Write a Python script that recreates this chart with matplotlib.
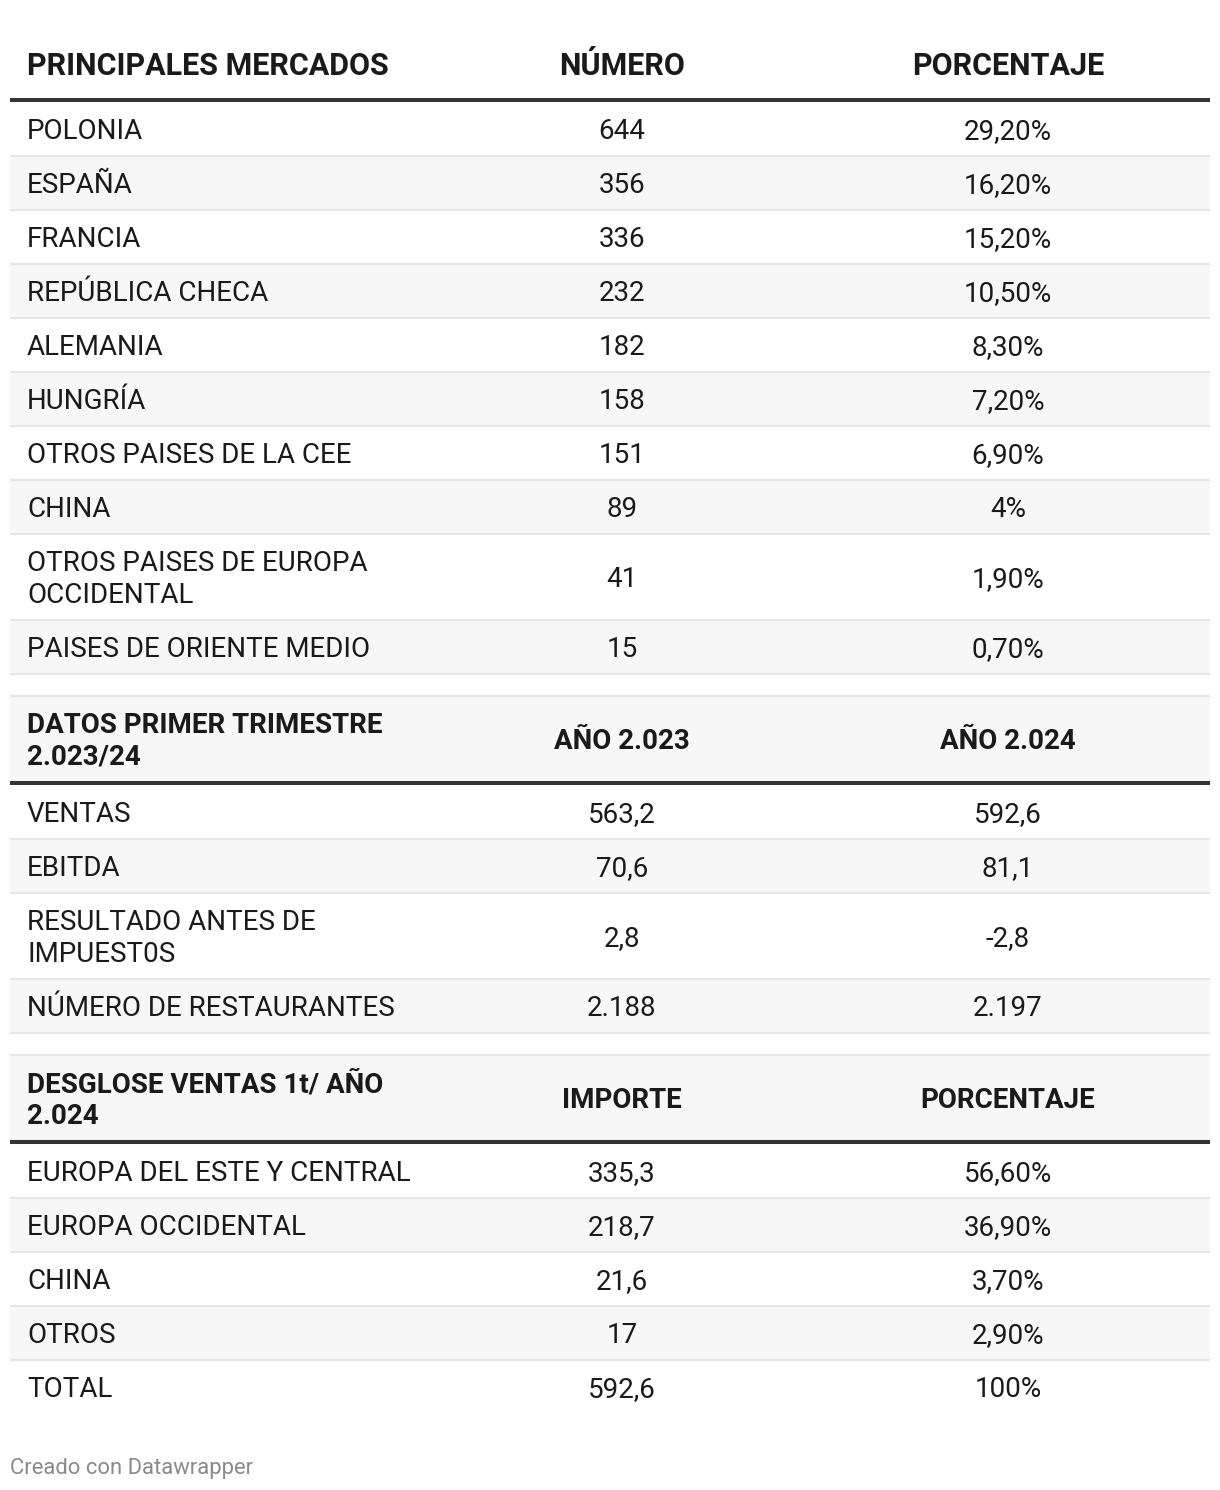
import matplotlib.pyplot as plt
from matplotlib.patches import Rectangle

# --- data ---
headers_markets = ["PRINCIPALES MERCADOS", "NÚMERO", "PORCENTAJE"]
markets = ["POLONIA", "ESPAÑA", "FRANCIA", "REPÚBLICA CHECA", "ALEMANIA", "HUNGRÍA",
           "OTROS PAISES DE LA CEE", "CHINA", "OTROS PAISES DE EUROPA\nOCCIDENTAL",
           "PAISES DE ORIENTE MEDIO"]
market_numbers = ["644", "356", "336", "232", "182", "158", "151", "89", "41", "15"]
market_pcts = ["29,20%", "16,20%", "15,20%", "10,50%", "8,30%", "7,20%", "6,90%", "4%",
               "1,90%", "0,70%"]

headers_q1 = ["DATOS PRIMER TRIMESTRE\n2.023/24", "AÑO 2.023", "AÑO 2.024"]
q1_items = ["VENTAS", "EBITDA", "RESULTADO ANTES DE\nIMPUEST0S", "NÚMERO DE RESTAURANTES"]
q1_2023 = ["563,2", "70,6", "2,8", "2.188"]
q1_2024 = ["592,6", "81,1", "-2,8", "2.197"]

headers_sales = ["DESGLOSE VENTAS 1t/ AÑO\n2.024", "IMPORTE", "PORCENTAJE"]
regions = ["EUROPA DEL ESTE Y CENTRAL", "EUROPA OCCIDENTAL", "CHINA", "OTROS", "TOTAL"]
region_amounts = ["335,3", "218,7", "21,6", "17", "592,6"]
region_pcts = ["56,60%", "36,90%", "3,70%", "2,90%", "100%"]

# --- style ---
W, H = 1220, 1490
X0, X1 = 10, 1210
COL_X = [27, 622, 1008]
TXT = "#1a1a1a"
STRIPE = "#f7f7f7"
THIN = "#e6e6e6"
THICK = "#333333"
FS = 20.0          # body text, points at dpi 100
FS_TOP = 22.0      # first (real) table header
FS_SUB = 20.0      # header rows inside the table
LINE_GAP = 32      # px between wrapped lines

fig = plt.figure(figsize=(W / 100, H / 100), dpi=100)
ax = fig.add_axes([0, 0, 1, 1])
ax.set_xlim(0, W)
ax.set_ylim(H, 0)
ax.axis("off")


def put_cell(x, yc, text, ha, size, bold=False):
    lines = text.split("\n")
    n = len(lines)
    for i, line in enumerate(lines):
        y = yc + (i - (n - 1) / 2) * LINE_GAP
        ax.text(x, y, line, ha=ha, va="center_baseline", fontsize=size,
                fontfamily="Roboto", fontweight="bold" if bold else "normal", color=TXT)


def put_row(cells, yc, size, bold=False):
    put_cell(COL_X[0], yc, cells[0], "left", size, bold)
    put_cell(COL_X[1], yc, cells[1], "center", size, bold)
    put_cell(COL_X[2], yc, cells[2], "center", size, bold)


def nlines(cells):
    return max(c.count("\n") + 1 for c in cells)


# build the row list: (kind, cells)
rows = [("header", headers_markets)]
rows += [("data", r) for r in zip(markets, market_numbers, market_pcts)]
rows += [("blank", None), ("header", headers_q1)]
rows += [("data", r) for r in zip(q1_items, q1_2023, q1_2024)]
rows += [("blank", None), ("header", headers_sales)]
rows += [("data", r) for r in zip(regions, region_amounts, region_pcts)]

y = 22
for i, (kind, cells) in enumerate(rows):
    if kind == "blank":
        h = 22
    elif kind == "header" and i == 0:
        h = 76
    elif kind == "header":
        h = 85
    else:
        h = 22 + LINE_GAP * nlines(cells)
    if i % 2 == 0 and i > 0:
        ax.add_patch(Rectangle((X0, y), X1 - X0, h, color=STRIPE, lw=0, zorder=0))
    if kind == "header":
        if i == 0:
            put_row(cells, 63, FS_TOP, bold=True)
        else:
            put_row(cells, y + h / 2, FS_SUB, bold=True)
    elif kind == "data":
        put_row(cells, y + h / 2 - 0.5, FS)
    y += h
    if kind == "header":
        ax.plot([X0, X1], [y + 2, y + 2], color=THICK, lw=2.9, solid_capstyle="butt")
        y += 4
    elif i < len(rows) - 1:
        ax.plot([X0, X1], [y, y], color=THIN, lw=1.5, solid_capstyle="butt")

ax.text(10, 1466, "Creado con Datawrapper", ha="left", va="center_baseline",
        fontsize=15.8, fontfamily="Roboto", color="#8a8a8a")

fig.savefig("out.png", dpi=100, facecolor="white")
